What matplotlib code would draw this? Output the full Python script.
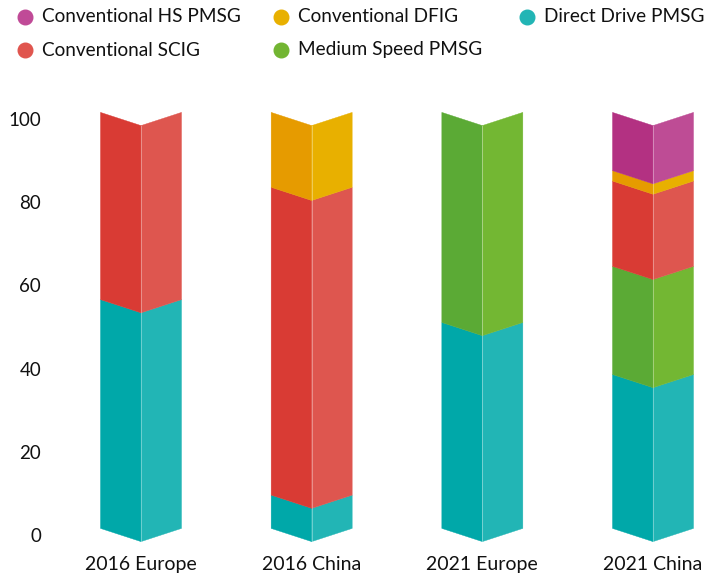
import matplotlib
matplotlib.use("Agg")
import matplotlib.pyplot as plt
from matplotlib.patches import Polygon
from matplotlib.lines import Line2D

plt.rcParams['font.family'] = ['Lato', 'DejaVu Sans']

categories = ["2016 Europe", "2016 China", "2021 Europe", "2021 China"]
series = ["Direct Drive PMSG", "Medium Speed PMSG", "Conventional SCIG",
          "Conventional DFIG", "Conventional HS PMSG"]
direct_drive = [55, 8, 49.5, 37]
medium_speed = [0, 0, 50.5, 26]
scig = [45, 74, 0, 20.5]
dfig = [0, 18, 0, 2.5]
hs_pmsg = [0, 0, 0, 14]
yticks = [0, 20, 40, 60, 80, 100]

left_cols = {"Direct Drive PMSG": "#00A8A9", "Medium Speed PMSG": "#5BAA35",
             "Conventional SCIG": "#D93B34", "Conventional DFIG": "#E69B00",
             "Conventional HS PMSG": "#B33182"}
right_cols = {"Direct Drive PMSG": "#22B5B5", "Medium Speed PMSG": "#73B733",
              "Conventional SCIG": "#DE564F", "Conventional DFIG": "#E8B000",
              "Conventional HS PMSG": "#BE4C95"}
legend_cols = {"Direct Drive PMSG": "#22B5B5", "Medium Speed PMSG": "#72B532",
               "Conventional SCIG": "#E0554E", "Conventional DFIG": "#E8B000",
               "Conventional HS PMSG": "#C04A97"}

W, H = 704, 575
fig = plt.figure(figsize=(W / 100, H / 100), dpi=100)
# axes in pixel terms
L, R, T, B = 55, 704, 90, 548
ax = fig.add_axes([L / W, 1 - B / H, (R - L) / W, (B - T) / H])
ppu = 4.16
y0 = 535
ax.set_ylim((y0 - B) / ppu, (y0 - T) / ppu)
spacing = 170.67
x0 = 141
ax.set_xlim((L - x0) / spacing, (R - x0) / spacing)

hw = 40.5 / spacing
d = 6.6 / ppu

data = {"Direct Drive PMSG": direct_drive, "Medium Speed PMSG": medium_speed,
        "Conventional SCIG": scig, "Conventional DFIG": dfig,
        "Conventional HS PMSG": hs_pmsg}

for i, cat in enumerate(categories):
    base = 0.0
    for s in series:
        v = data[s][i]
        if v <= 0:
            continue
        lo, hi = base, base + v
        lpoly = [(i - hw, lo + d), (i, lo - d), (i, hi - d), (i - hw, hi + d)]
        rpoly = [(i + hw, lo + d), (i, lo - d), (i, hi - d), (i + hw, hi + d)]
        ax.add_patch(Polygon(lpoly, closed=True, facecolor=left_cols[s],
                             edgecolor=left_cols[s], lw=0.3, zorder=2))
        ax.add_patch(Polygon(rpoly, closed=True, facecolor=right_cols[s],
                             edgecolor=right_cols[s], lw=0.3, zorder=2))
        base = hi
    ax.plot([i, i], [0 - d, base - d], color="white", alpha=0.35, lw=0.7, zorder=3)

ax.set_yticks(yticks)
ax.set_yticklabels([str(t) for t in yticks])
ax.set_xticks(range(len(categories)))
ax.set_xticklabels(categories)
ax.tick_params(axis='y', length=0, pad=10, labelsize=13.5, labelcolor="#111111")
ax.tick_params(axis='x', length=0, pad=6, labelsize=14, labelcolor="#111111")
for sp in ax.spines.values():
    sp.set_visible(False)

# legend
order = ["Conventional HS PMSG", "Conventional DFIG", "Direct Drive PMSG",
         "Conventional SCIG", "Medium Speed PMSG"]
pos = [(25, 17), (281, 17), (527, 17), (25, 50), (281, 50)]
for name, (px, py) in zip(order, pos):
    fig.add_artist(Line2D([px / W], [1 - py / H], marker='o', markersize=10.5,
                          color=legend_cols[name], linestyle='none'))
    fig.text((px + 17) / W, 1 - py / H, name, fontsize=13.7, color="#111111",
             va='center', ha='left')

fig.savefig("out.png", dpi=100)
